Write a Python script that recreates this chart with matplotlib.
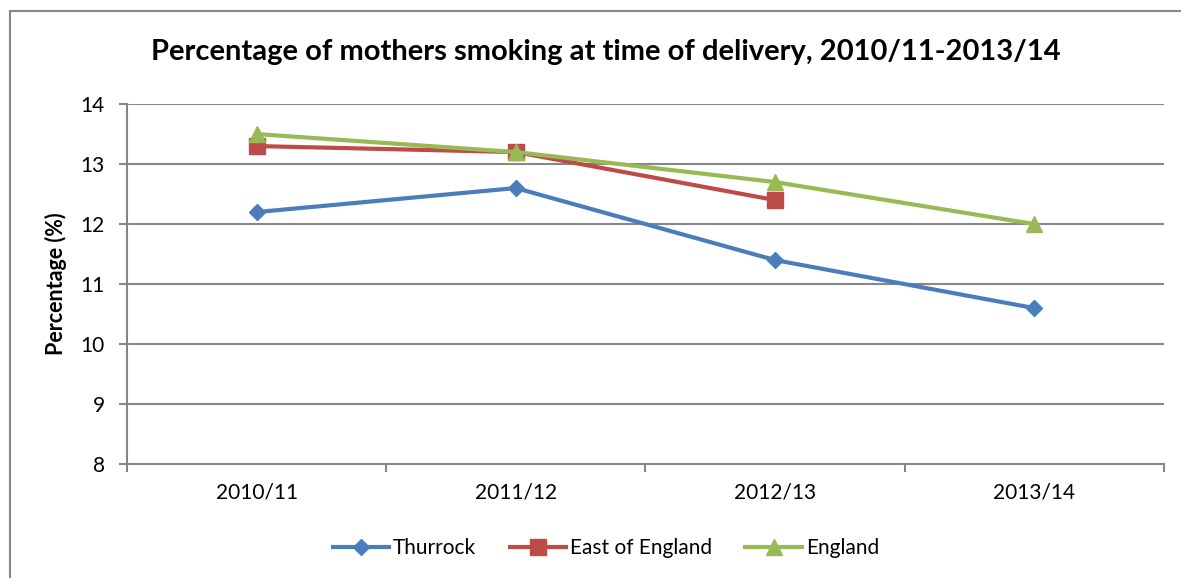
import matplotlib.pyplot as plt
from matplotlib.lines import Line2D

years = ['2010/11', '2011/12', '2012/13', '2013/14']
thurrock = [12.2, 12.6, 11.4, 10.6]
east_of_england = [13.3, 13.2, 12.4]
england = [13.5, 13.2, 12.7, 12.0]

plt.rcParams['font.family'] = ['Lato', 'DejaVu Sans']

fig = plt.figure(figsize=(11.81, 5.78), dpi=100)
ax = fig.add_axes([0.1075, 0.197, 0.878, 0.623])

grey = '#878787'
blue, red, green = '#4A7EBB', '#BE4B48', '#98B954'
x = list(range(len(years)))
ax.plot(x, thurrock, color=blue, lw=3, marker='D', ms=8.5, label='Thurrock')
ax.plot(x[:len(east_of_england)], east_of_england, color=red, lw=3, marker='s', ms=12, label='East of England')
ax.plot(x, england, color=green, lw=3, marker='^', ms=12, label='England')

ax.set_ylim(8, 14)
ax.set_xlim(-0.5, len(years) - 0.5)
ax.set_yticks(range(8, 15))
ax.set_xticks(x)
ax.set_xticklabels(years)
ax.set_xticks([i - 0.5 for i in range(len(years) + 1)], minor=True)
ax.tick_params(axis='x', which='major', length=0, pad=13, labelsize=15)
ax.tick_params(axis='x', which='minor', length=6, color=grey, width=1.5)
ax.tick_params(axis='y', length=6, color=grey, width=1.5, labelsize=15, pad=10)
ax.grid(axis='y', color=grey, lw=1.5)
ax.set_axisbelow(True)
for s in ['top', 'right']:
    ax.spines[s].set_visible(False)
for s in ['left', 'bottom']:
    ax.spines[s].set_color(grey)
    ax.spines[s].set_linewidth(1.5)

ax.set_ylabel('Percentage (%)', fontsize=15.5, fontweight='bold')
ax.yaxis.set_label_coords(-0.058, 0.5)
fig.text(0.513, 0.91, 'Percentage of mothers smoking at time of delivery, 2010/11-2013/14',
         ha='center', va='center', fontsize=21, fontweight='bold')

handles = [Line2D([], [], color=blue, lw=3, marker='D', ms=8.5),
           Line2D([], [], color=red, lw=3, marker='s', ms=12),
           Line2D([], [], color=green, lw=3, marker='^', ms=12)]
fig.legend(handles, ['Thurrock', 'East of England', 'England'], loc='center',
           bbox_to_anchor=(0.513, 0.052), ncol=3, frameon=False, fontsize=15,
           handlelength=2.7, handletextpad=0.2, columnspacing=1.6)

# outer chart frame
fig.add_artist(Line2D([0.0085, 0.0085], [0, 0.981], color=grey, lw=1.5, transform=fig.transFigure))
fig.add_artist(Line2D([0.0085, 1], [0.981, 0.981], color=grey, lw=1.5, transform=fig.transFigure))

fig.savefig('out.png', dpi=100)
